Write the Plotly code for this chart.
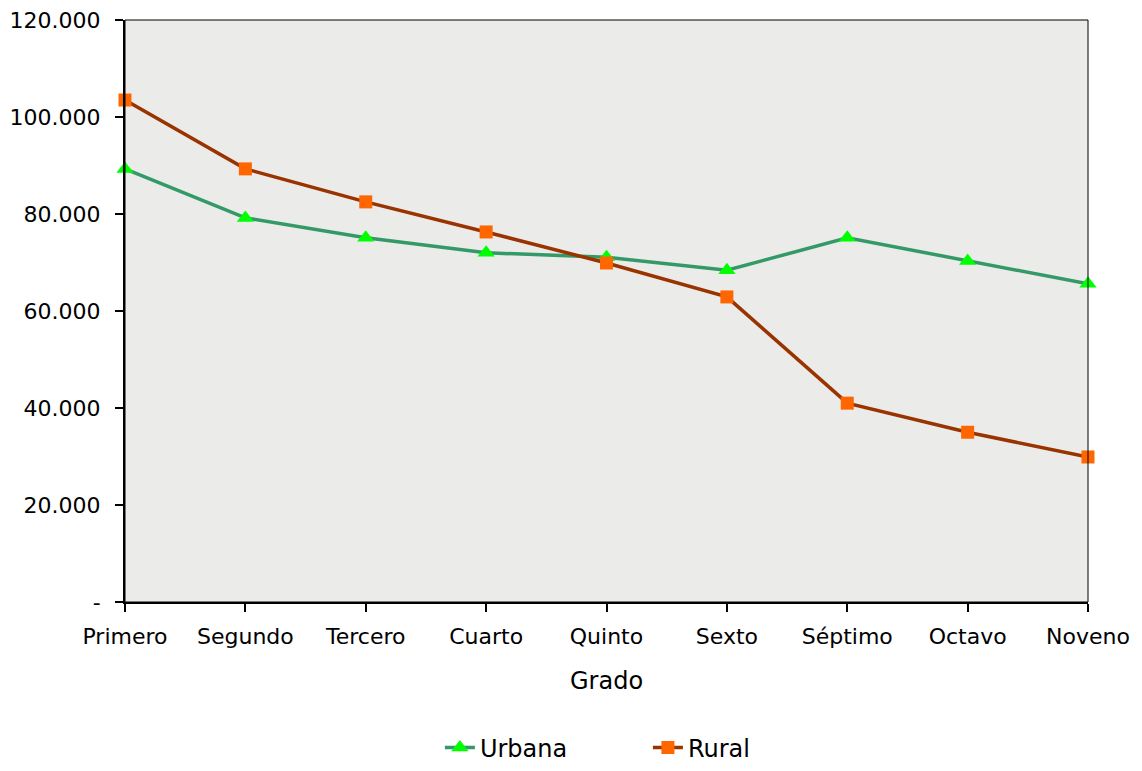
import plotly.graph_objects as go

grados = ["Primero", "Segundo", "Tercero", "Cuarto", "Quinto", "Sexto", "Séptimo", "Octavo", "Noveno"]
urbana = [89300, 79200, 75100, 72000, 71100, 68400, 75100, 70300, 65600]
rural = [103500, 89300, 82500, 76300, 69900, 62900, 41000, 35000, 29900]
y_tickvals = [0, 20000, 40000, 60000, 80000, 100000, 120000]
y_ticktext = ["-", "20.000", "40.000", "60.000", "80.000", "100.000", "120.000"]

FONT = "DejaVu Sans"

fig = go.Figure()
fig.add_trace(go.Scatter(
    x=grados, y=urbana, name="Urbana", mode="lines+markers", cliponaxis=False,
    line=dict(color="#339966", width=3.5),
    marker=dict(symbol="triangle-up", size=15, color="#00ff00"),
))
fig.add_trace(go.Scatter(
    x=grados, y=rural, name="Rural", mode="lines+markers", cliponaxis=False,
    line=dict(color="#993300", width=3.5),
    marker=dict(symbol="square", size=13, color="#ff6600"),
))

# page body has an 8px margin; size the figure so it fits the 1142x771 window exactly
fig.update_layout(
    width=1126, height=755,
    margin=dict(l=117, r=46, t=12, b=161),
    paper_bgcolor="white",
    plot_bgcolor="#ebebea",
    font=dict(family=FONT, size=22, color="black"),
    showlegend=True,
    legend=dict(orientation="h", x=0.327, xanchor="left", xref="paper",
                y=0.02, yanchor="middle", yref="container",
                font=dict(family=FONT, size=24), entrywidth=163, entrywidthmode="pixels",
                traceorder="normal"),
    xaxis=dict(
        type="category", range=[0, 8], showgrid=False, zeroline=False, automargin=False,
        showline=True, linecolor="black", linewidth=2,
        ticks="outside", ticklen=8, tickcolor="black", tickwidth=2,
        ticklabelstandoff=6, ticklabeloverflow="allow",
        tickfont=dict(family=FONT, size=22),
    ),
    yaxis=dict(
        range=[0, 120000], showgrid=False, zeroline=False, automargin=False,
        showline=True, linecolor="black", linewidth=2,
        ticks="outside", ticklen=8, tickcolor="black", tickwidth=2,
        ticklabelstandoff=10, ticklabeloverflow="allow",
        tickvals=y_tickvals, ticktext=y_ticktext,
        tickfont=dict(family=FONT, size=22),
    ),
    annotations=[dict(text="Grado", xref="paper", yref="paper", x=0.5, y=-0.136,
                      xanchor="center", yanchor="middle", showarrow=False,
                      font=dict(family=FONT, size=24))],
    shapes=[dict(type="rect", xref="paper", yref="paper", x0=0, x1=1, y0=0, y1=1,
                 line=dict(color="black", width=1), layer="above")],
)

fig.write_html("out.html")
